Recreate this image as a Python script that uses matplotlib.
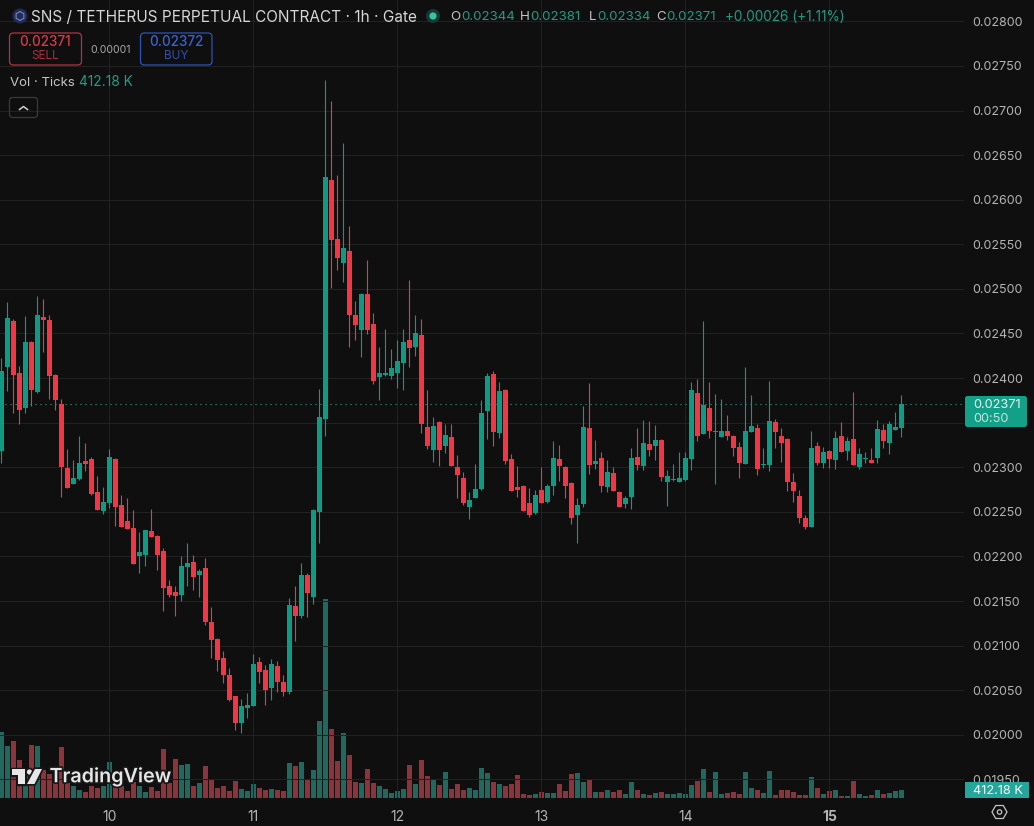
import numpy as np
import matplotlib
matplotlib.use('Agg')
import matplotlib.pyplot as plt
import matplotlib.patheffects as pe
from matplotlib.patches import Circle, FancyBboxPatch, Polygon, RegularPolygon, Rectangle

# Prices are in exchange ticks of 0.00001, one value per hourly candle
opens = [
    2318, 2412, 2464, 2406, 2367, 2441, 2384, 2469, 2465, 2404,
    2371, 2299, 2281, 2287, 2307, 2309, 2272, 2251, 2260, 2309,
    2258, 2240, 2232, 2200, 2202, 2229, 2223, 2206, 2167, 2160,
    2157, 2188, 2194, 2179, 2187, 2127, 2108, 2086, 2067, 2043,
    2013, 2030, 2032, 2082, 2073, 2053, 2077, 2059, 2048, 2145,
    2133, 2179, 2154, 2250, 2354, 2622, 2556, 2529, 2543, 2471,
    2454, 2494, 2461, 2401, 2404, 2402, 2406, 2417, 2443, 2435,
    2448, 2345, 2319, 2351, 2324, 2334, 2300, 2288, 2256, 2266,
    2276, 2363, 2405, 2338, 2387, 2309, 2278, 2279, 2260, 2249,
    2275, 2261, 2279, 2309, 2300, 2282, 2247, 2259, 2344, 2304,
    2310, 2278, 2294, 2272, 2259, 2267, 2312, 2301, 2326, 2324,
    2331, 2284, 2286, 2284, 2286, 2309, 2383, 2337, 2366, 2340,
    2334, 2341, 2335, 2323, 2304, 2340, 2344, 2303, 2302, 2351,
    2335, 2332, 2284, 2268, 2243, 2233, 2324, 2305, 2318, 2308,
    2335, 2318, 2332, 2300, 2309, 2308, 2310, 2342, 2327, 2342, 2344,
]
highs = [
    2422, 2485, 2466, 2414, 2470, 2442, 2492, 2489, 2471, 2405,
    2376, 2321, 2308, 2335, 2327, 2311, 2290, 2278, 2321, 2310,
    2269, 2266, 2252, 2227, 2230, 2253, 2224, 2209, 2174, 2167,
    2201, 2215, 2202, 2186, 2198, 2143, 2109, 2094, 2075, 2044,
    2040, 2047, 2091, 2087, 2078, 2085, 2083, 2067, 2153, 2167,
    2193, 2181, 2253, 2388, 2734, 2711, 2628, 2664, 2571, 2486,
    2495, 2532, 2473, 2435, 2455, 2433, 2443, 2455, 2510, 2471,
    2466, 2387, 2356, 2352, 2349, 2349, 2314, 2295, 2272, 2304,
    2375, 2406, 2408, 2396, 2388, 2315, 2301, 2280, 2277, 2275,
    2300, 2281, 2330, 2325, 2301, 2283, 2265, 2369, 2395, 2331,
    2317, 2308, 2300, 2273, 2268, 2322, 2344, 2353, 2352, 2347,
    2332, 2297, 2304, 2317, 2317, 2396, 2399, 2464, 2396, 2382,
    2377, 2359, 2336, 2328, 2412, 2381, 2348, 2322, 2397, 2354,
    2344, 2333, 2294, 2275, 2247, 2341, 2328, 2323, 2319, 2341,
    2351, 2334, 2384, 2322, 2317, 2322, 2353, 2349, 2352, 2362, 2381,
]
lows = [
    2305, 2386, 2361, 2349, 2361, 2369, 2383, 2429, 2377, 2364,
    2267, 2277, 2281, 2286, 2296, 2269, 2252, 2248, 2254, 2234,
    2233, 2231, 2191, 2181, 2189, 2222, 2185, 2139, 2155, 2133,
    2150, 2167, 2162, 2155, 2123, 2086, 2072, 2058, 2038, 2005,
    2002, 2019, 2032, 2058, 2034, 2039, 2048, 2043, 2046, 2105,
    2131, 2132, 2147, 2215, 2335, 2501, 2521, 2508, 2435, 2443,
    2424, 2449, 2393, 2375, 2402, 2399, 2389, 2387, 2412, 2425,
    2338, 2321, 2306, 2301, 2316, 2301, 2266, 2258, 2242, 2265,
    2275, 2332, 2324, 2333, 2304, 2273, 2267, 2251, 2244, 2248,
    2260, 2260, 2269, 2285, 2265, 2236, 2215, 2256, 2292, 2298,
    2272, 2272, 2273, 2256, 2254, 2253, 2297, 2297, 2313, 2308,
    2285, 2257, 2285, 2283, 2285, 2297, 2329, 2337, 2333, 2281,
    2334, 2331, 2313, 2288, 2304, 2340, 2291, 2299, 2296, 2322,
    2306, 2273, 2261, 2238, 2231, 2233, 2303, 2299, 2299, 2298,
    2317, 2308, 2303, 2298, 2305, 2305, 2305, 2322, 2315, 2342, 2334,
]
closes = [
    2408, 2467, 2404, 2364, 2441, 2387, 2471, 2465, 2402, 2375,
    2300, 2277, 2288, 2305, 2304, 2270, 2252, 2261, 2312, 2256,
    2233, 2231, 2192, 2205, 2230, 2222, 2202, 2165, 2157, 2156,
    2189, 2193, 2177, 2184, 2127, 2106, 2084, 2067, 2039, 2013,
    2032, 2034, 2079, 2070, 2050, 2079, 2059, 2048, 2146, 2133,
    2179, 2159, 2252, 2356, 2625, 2555, 2535, 2546, 2471, 2460,
    2494, 2454, 2397, 2406, 2405, 2411, 2419, 2441, 2434, 2451,
    2349, 2324, 2346, 2319, 2336, 2301, 2291, 2260, 2263, 2276,
    2361, 2402, 2340, 2386, 2307, 2273, 2275, 2251, 2247, 2269,
    2260, 2279, 2310, 2301, 2279, 2243, 2258, 2345, 2303, 2307,
    2279, 2295, 2273, 2256, 2266, 2310, 2303, 2327, 2319, 2331,
    2289, 2290, 2287, 2288, 2310, 2387, 2335, 2370, 2341, 2341,
    2341, 2335, 2322, 2305, 2341, 2346, 2298, 2304, 2352, 2340,
    2327, 2284, 2273, 2243, 2233, 2322, 2305, 2317, 2309, 2333,
    2317, 2329, 2303, 2315, 2310, 2305, 2343, 2329, 2349, 2345, 2371,
]
# Tick volume in thousands
volumes = [
    3400, 2680, 2935, 1955, 1185, 2730, 2680, 1440, 1235, 1030,
    2625, 770, 620, 410, 310, 620, 515, 620, 1855, 620,
    620, 360, 825, 620, 310, 565, 360, 2525, 770, 2010,
    1700, 1750, 620, 770, 1650, 980, 515, 620, 360, 875,
    465, 360, 720, 515, 410, 465, 410, 360, 1800, 1650,
    1855, 980, 1440, 3965, 10250, 3555, 1905, 3350, 2215, 825,
    770, 1495, 770, 620, 465, 260, 360, 465, 1700, 720,
    1955, 1135, 980, 670, 1340, 465, 720, 410, 515, 410,
    1545, 1290, 825, 720, 620, 720, 1185, 205, 155, 205,
    310, 260, 260, 720, 360, 1235, 1290, 825, 925, 310,
    310, 410, 310, 410, 205, 825, 410, 205, 155, 260,
    310, 205, 205, 260, 205, 670, 875, 1495, 310, 1340,
    205, 260, 310, 205, 1340, 515, 410, 260, 1390, 155,
    410, 410, 310, 155, 155, 1080, 515, 205, 360, 410,
    105, 105, 875, 205, 105, 155, 410, 205, 260, 360, 412.18,
]
day_hours = [0, 24, 48, 72, 96, 120]
day_labels = ['10', '11', '12', '13', '14', '15']
price_ticks = [1950, 2000, 2050, 2100, 2150, 2200, 2250, 2300, 2350, 2400,
               2450, 2500, 2550, 2600, 2650, 2700, 2750, 2800]

BG = '#0f0f10'
GRID = '#212122'
UP = '#0f9b83'
DOWN = '#f23645'
UP_VOL = '#21695f'
DOWN_VOL = '#8b343b'
LABEL = '#b4b4b4'
TEAL_TEXT = '#1f9c82'

plt.rcParams['font.family'] = ['Inter', 'DejaVu Sans']

hours = np.arange(-18, -18 + len(opens))
o = np.array(opens) * 1e-5
h = np.array(highs) * 1e-5
l = np.array(lows) * 1e-5
c = np.array(closes) * 1e-5
rising = c >= o
candle_colors = np.where(rising, UP, DOWN)
volume_colors = np.where(rising, UP_VOL, DOWN_VOL)

fig = plt.figure(figsize=(10.34, 8.26), dpi=100, facecolor=BG)
plot_rect = [0, 28 / 826, 964 / 1034, 798 / 826]

# Volume pane sits under the price pane and shares its x range
ax_vol = fig.add_axes(plot_rect, facecolor=BG, zorder=1)
ax_vol.bar(hours, volumes, width=0.8, color=volume_colors, linewidth=0)
ax_vol.set_xlim(-18.25, 142.42)
ax_vol.set_ylim(0, 798 * 51.5)
ax_vol.axis('off')

ax = fig.add_axes(plot_rect, zorder=2)
ax.patch.set_visible(False)
ax.set_xlim(-18.25, 142.42)
ax.set_ylim(0.019292, 0.028239)
ax.grid(True, color=GRID, linewidth=0.75, zorder=0)
ax.set_axisbelow(True)
ax.vlines(hours, l, h, colors=candle_colors, linewidth=0.8, zorder=2)
ax.bar(hours, np.maximum(np.abs(c - o), 1.2e-5), bottom=np.minimum(o, c),
       width=0.84, color=candle_colors, linewidth=0, zorder=3)
ax.axhline(c[-1], color='#3f9a88', linewidth=0.8, linestyle=(0, (1, 3.5)), zorder=1)

ax.set_xticks(day_hours)
ax.set_xticklabels(day_labels)
ax.set_yticks(np.array(price_ticks) * 1e-5)
# the 0.02350 level stays on the grid, its label sits under the last price tag
ax.set_yticklabels(['' if p == 2350 else '%.5f' % (p * 1e-5) for p in price_ticks])
ax.yaxis.tick_right()
ax.tick_params(axis='both', length=0, colors=LABEL, labelsize=9)
ax.tick_params(axis='x', pad=8.5, labelsize=10)
ax.tick_params(axis='y', pad=6.2)
ax.get_xticklabels()[-1].set_fontweight('bold')
for side in ax.spines.values():
    side.set_visible(False)

# Toolbar, legend and price tags are drawn in screen pixels on top of the chart
ui = fig.add_axes([0, 0, 1, 1], zorder=3)
ui.set_xlim(0, 1034)
ui.set_ylim(826, 0)
ui.axis('off')


def box(x0, y0, x1, y1, edge, face='none', radius=4, lw=0.9):
    ui.add_patch(FancyBboxPatch((x0, y0), x1 - x0, y1 - y0,
                                boxstyle='round,pad=0,rounding_size=%g' % radius,
                                edgecolor=edge, facecolor=face, linewidth=lw))


# Symbol icon and title
ui.add_patch(Circle((20, 16), 7.5, color='#232c55', linewidth=0))
ui.add_patch(RegularPolygon((20, 16), 6, radius=4.5, fill=False, edgecolor='#7487c9', linewidth=0.8))
ui.text(31, 17, 'SNS / TETHERUS PERPETUAL CONTRACT · 1h · Gate', color='#d6d6d6',
        fontsize=11.08, va='center', ha='left')
ui.add_patch(Circle((433, 16), 7, color='#143a33', linewidth=0))
ui.add_patch(Circle((433, 16), 3.6, color='#38c3a0', linewidth=0))

# OHLC readout
for x, letter, x_val, val in [(450, 'O', 461, '0.02344'), (520, 'H', 530, '0.02381'),
                              (589, 'L', 597, '0.02334'), (656, 'C', 666, '0.02371')]:
    ui.text(x, 17, letter, color='#c4c4c4', fontsize=9.6, va='center', ha='left')
    ui.text(x_val, 17, val, color=TEAL_TEXT, fontsize=9.6, va='center', ha='left')
ui.text(725, 17, '+0.00026 (+1.11%)', color=TEAL_TEXT, fontsize=9.8, va='center', ha='left')

# Sell / buy buttons
box(9.5, 33, 81.5, 65, '#b83040')
ui.text(45.5, 42, '0.02371', color='#d8384a', fontsize=9.7, fontweight='medium', ha='center', va='center')
ui.text(45.5, 56, 'SELL', color='#a8303e', fontsize=8.5, ha='center', va='center')
ui.text(110.5, 50, '0.00001', color='#a8a8a8', fontsize=7.6, ha='center', va='center')
box(140.5, 33, 212, 65, '#2d55b5')
ui.text(176, 42, '0.02372', color='#3a63d0', fontsize=9.7, fontweight='medium', ha='center', va='center')
ui.text(176, 56, 'BUY', color='#2f50a8', fontsize=8.5, ha='center', va='center')

# Volume legend and collapse button
ui.text(10, 82.5, 'Vol · Ticks', color='#c4c4c4', fontsize=9.5, ha='left', va='center')
ui.text(79, 82.5, '412.18 K', color=TEAL_TEXT, fontsize=9.9, ha='left', va='center')
box(9.5, 97.5, 37.5, 117.5, '#3a3a3c', radius=3)
ui.plot([19.5, 23.5, 27.5], [109.5, 106.5, 109.5], color='#d0d0d0', linewidth=1.1)

# Watermark
halo = [pe.withStroke(linewidth=2.5, foreground='#171717')]
ui.add_patch(Polygon([(12, 769), (25, 769), (25, 784), (18, 784), (18, 775), (12, 775)],
                     color='#e6e6e6', linewidth=0, path_effects=halo))
ui.add_patch(Circle((29.5, 772), 2.6, color='#e6e6e6', linewidth=0, path_effects=halo))
ui.add_patch(Polygon([(35, 769), (42, 769), (34.5, 784), (27, 784)],
                     color='#e6e6e6', linewidth=0, path_effects=halo))
ui.text(49.5, 777, 'TradingView', color='#e6e6e6', fontsize=14.2, fontweight='semibold',
        ha='left', va='center', path_effects=halo)

# Last price and volume tags
box(965, 396, 1027, 427, '#12a088', face='#12a088', radius=2.5, lw=0)
ui.text(973, 405, '0.02371', color='#e8f6f3', fontsize=9.2, ha='left', va='center')
ui.text(973, 419, '00:50', color='#bfe6de', fontsize=9.2, ha='left', va='center')
ui.add_patch(Rectangle((965, 782), 64, 16, color='#26a69a', linewidth=0))
ui.text(973, 790.5, '412.18 K', color='#f0faf8', fontsize=9.2, ha='left', va='center')

# Settings hexagon in the axis corner
ui.add_patch(RegularPolygon((999.5, 812), 6, radius=7.5, orientation=np.pi / 2,
                            fill=False, edgecolor='#c4c4c4', linewidth=0.9))
ui.add_patch(Circle((999.5, 812), 2.2, fill=False, edgecolor='#c4c4c4', linewidth=0.9))

fig.savefig('out.png', dpi=100, facecolor=BG)
